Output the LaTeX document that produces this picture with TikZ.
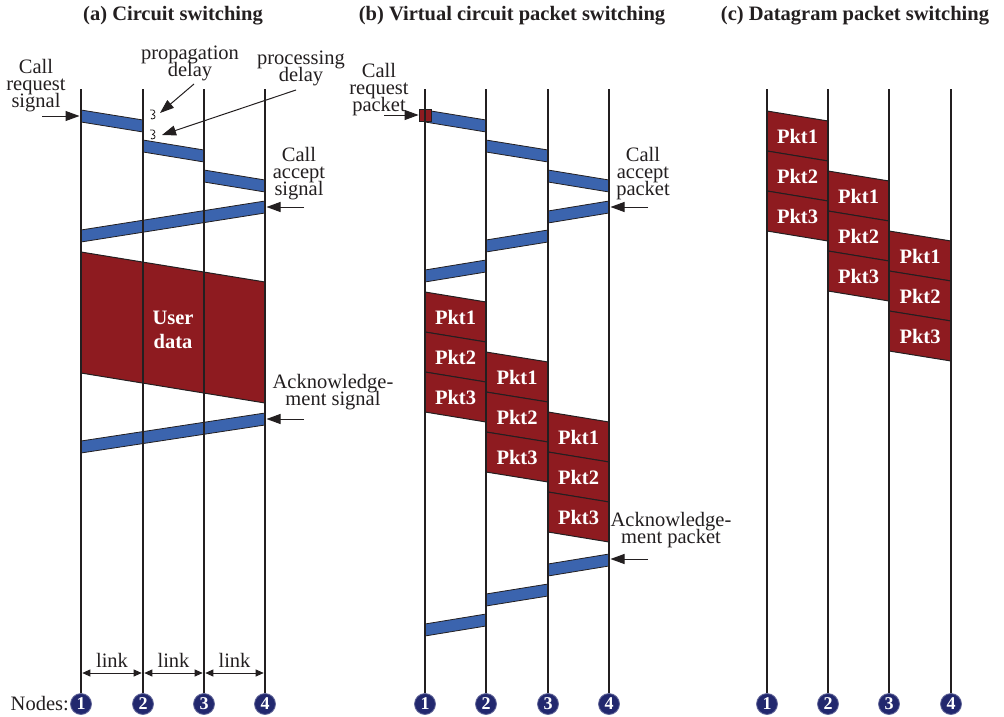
\documentclass[tikz,border=0pt]{standalone}
\usepackage{fontspec}
\setmainfont{Liberation Serif}
\usetikzlibrary{arrows.meta}
\definecolor{barblue}{HTML}{3B64AE}
\definecolor{pktred}{HTML}{8E1B20}
\definecolor{linec}{HTML}{231F20}
\definecolor{navyc}{HTML}{22286E}
\newcommand\tightls{\lineskiplimit=-20pt\relax}
\newcommand\sigbar[4]{\filldraw[sbar] (#1,#2) -- (#3,#4) -- (#3,#4+12) -- (#1,#2+12) -- cycle;}
\newcommand\pkt[5]{\filldraw[pktbox] (#1,#3) -- (#2,#3+10) -- (#2,#3+50) -- (#1,#3+40) -- cycle;
  \node[pkttxt] (#5) at ({(#1+#2)/2},#3+25) {#4};}
\newcommand\squig[2]{\draw[sqg] (#1,#2) -- (#1+3,#2) .. controls (#1+6,#2+1) and (#1+5,#2+4) .. (#1+2.5,#2+4.5)
  .. controls (#1+6,#2+5) and (#1+6,#2+9) .. (#1+2,#2+9) -- (#1+1,#2+8);}
\begin{document}
\begin{tikzpicture}[x=1pt,y=-1pt,
 txt/.style={inner sep=0pt, align=center, font={\fontsize{20.5}{17}\selectfont\tightls}, text=linec},
 ttl/.style={inner sep=0pt, font=\fontsize{20.5}{24}\selectfont\bfseries, text=linec},
 vline/.style={line width=2.6pt, draw=linec},
 sbar/.style={fill=barblue, draw=linec, line width=0.8pt},
 pktbox/.style={fill=pktred, draw=linec, line width=1pt},
 pkttxt/.style={inner sep=0pt, text=white, align=center, font=\fontsize{20.5}{24}\selectfont\bfseries},
 ptr/.style={draw=linec, line width=1pt, -{Triangle[length=14pt,width=10pt]}},
 linkarr/.style={draw=linec, line width=0.9pt, {Triangle[length=8pt,width=7pt]}-{Triangle[length=8pt,width=7pt]}, shorten <=1.3pt, shorten >=1.3pt},
 ncirc/.style={circle, fill=navyc, draw=navyc!70!white, line width=0.8pt, minimum size=21pt, inner sep=0pt, text=white, font=\fontsize{18}{18}\selectfont\bfseries},
 sqg/.style={draw=linec, line width=0.8pt}
]
\useasboundingbox (0,0) rectangle (1004,717);

% titles
\node[ttl] (ta) at (173,16) {(a) Circuit switching};
\node[ttl] (tb) at (512,16) {(b) Virtual circuit packet switching};
\node[ttl] (tc) at (855,16) {(c) Datagram packet switching};

% ---------- panel (a) ----------
\sigbar{81}{110}{143}{120}
\sigbar{143}{140}{204}{150}
\sigbar{204}{170}{265}{180}
\sigbar{265}{201}{81}{230}
\filldraw[pktbox] (81,252) -- (265,282) -- (265,403) -- (81,373) -- cycle;
\node[pkttxt] (userdata) at (173,330) {User\\data};
\sigbar{265}{413}{81}{441}

% ---------- panel (b) ----------
\sigbar{425}{110}{486}{120}
\sigbar{486}{140}{548}{150}
\sigbar{548}{170}{609}{180}
\sigbar{609}{201}{548}{211}
\sigbar{548}{230}{486}{240}
\sigbar{486}{260}{425}{270}
\node[draw=linec, line width=0.8pt, fill=pktred, minimum size=12pt, inner sep=0pt] (sq) at (425,115) {};
\pkt{425}{486}{292}{Pkt1}{b11}
\pkt{425}{486}{332}{Pkt2}{b12}
\pkt{425}{486}{372}{Pkt3}{b13}
\pkt{486}{548}{352}{Pkt1}{b21}
\pkt{486}{548}{392}{Pkt2}{b22}
\pkt{486}{548}{432}{Pkt3}{b23}
\pkt{548}{609}{412}{Pkt1}{b31}
\pkt{548}{609}{452}{Pkt2}{b32}
\pkt{548}{609}{492}{Pkt3}{b33}
\sigbar{609}{554}{548}{564}
\sigbar{548}{584}{486}{594}
\sigbar{486}{614}{425}{624}

% ---------- panel (c) ----------
\pkt{767}{828}{111}{Pkt1}{c11}
\pkt{767}{828}{151}{Pkt2}{c12}
\pkt{767}{828}{191}{Pkt3}{c13}
\pkt{828}{889}{171}{Pkt1}{c21}
\pkt{828}{889}{211}{Pkt2}{c22}
\pkt{828}{889}{251}{Pkt3}{c23}
\pkt{889}{951}{231}{Pkt1}{c31}
\pkt{889}{951}{271}{Pkt2}{c32}
\pkt{889}{951}{311}{Pkt3}{c33}

% ---------- node circles and time lines ----------
\foreach \n/\x in {1/81,2/143,3/204,4/265} {
  \node[ncirc] (a\n) at (\x,704) {\n}; \coordinate (a\n t) at (\x,89);}
\foreach \n/\x in {1/425,2/486,3/548,4/609} {
  \node[ncirc] (b\n) at (\x,704) {\n}; \coordinate (b\n t) at (\x,89);}
\foreach \n/\x in {1/767,2/828,3/889,4/951} {
  \node[ncirc] (c\n) at (\x,704) {\n}; \coordinate (c\n t) at (\x,89);}
\foreach \p in {a,b,c} \foreach \n in {1,...,4} \draw[vline] (\p\n t) -- (\p\n);

\node[txt, anchor=east] (nodeslbl) at (69,704) {Nodes:};

% links
\foreach \i/\xa/\xb in {1/81/143,2/143/204,3/204/265} {
  \coordinate (la\i) at (\xa,673); \coordinate (lb\i) at (\xb,673);
  \draw[linkarr] (la\i) -- (lb\i);
  \node[txt] (lk\i) at ({(\xa+\xb)/2},660) {link};}

% ---------- labels (a) ----------
\node[txt] (crs) at (36,86) {Call\\request\\signal};
\coordinate (crsA) at (42,116); \coordinate (crsB) at (79.5,116);
\draw[ptr] (crsA) -- (crsB);

\node[txt] (prop) at (190,63) {propagation\\delay};
\coordinate (propA) at (194,84); \coordinate (propB) at (160,113);
\draw[ptr] (propA) -- (propB);
\node[txt] (proc) at (301,68) {processing\\delay};
\coordinate (procA) at (296,90); \coordinate (procB) at (162,135);
\draw[ptr] (procA) -- (procB);
\squig{150}{110}
\squig{150}{130}

\node[txt] (cas) at (299,174) {Call\\accept\\signal};
\coordinate (casA) at (304,207); \coordinate (casB) at (266.5,207);
\draw[ptr] (casA) -- (casB);

\node[txt] (acks) at (333,392) {Acknowledge-\\ment signal};
\coordinate (acksA) at (304,419); \coordinate (acksB) at (266.5,419);
\draw[ptr] (acksA) -- (acksB);

% ---------- labels (b) ----------
\node[txt] (crp) at (379,90) {Call\\request\\packet};
\coordinate (crpA) at (384,115);
\draw[ptr] (crpA) -- (sq.west);

\node[txt] (cap) at (643,174) {Call\\accept\\packet};
\coordinate (capA) at (648,207); \coordinate (capB) at (610.5,207);
\draw[ptr] (capA) -- (capB);

\node[txt] (ackp) at (671,530) {Acknowledge-\\ment packet};
\coordinate (ackpA) at (648,559); \coordinate (ackpB) at (610.5,559);
\draw[ptr] (ackpA) -- (ackpB);
\end{tikzpicture}
\end{document}
